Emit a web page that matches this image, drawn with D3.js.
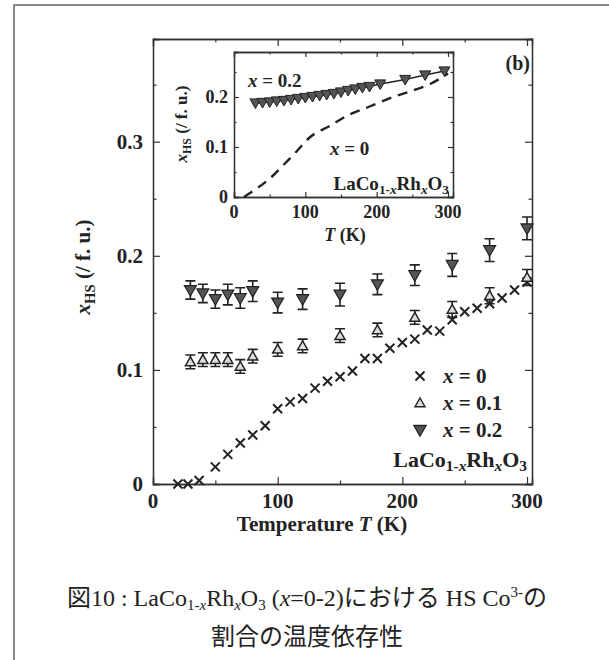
<!DOCTYPE html>
<html lang="ja">
<head>
<meta charset="utf-8">
<script src="https://d3js.org/d3.v7.min.js"></script>
<style>
  body { margin: 0; background: #fff; }
  text { font-family: "Liberation Serif", "Times New Roman", serif; fill: #222; }
</style>
</head>
<body>
<script>
// ---- main panel data ----
const tempX0 = [20, 28, 37, 50, 60, 70, 80, 90, 100, 110, 120, 130, 140, 150, 160, 170, 180, 190, 200, 210, 220, 230, 240, 250, 260, 270, 280, 290, 300];
const hsX0 = [0, 0, 0.003, 0.015, 0.026, 0.036, 0.043, 0.051, 0.066, 0.072, 0.075, 0.084, 0.090, 0.094, 0.099, 0.110, 0.110, 0.119, 0.124, 0.127, 0.135, 0.134, 0.144, 0.151, 0.154, 0.158, 0.163, 0.170, 0.177];

const tempX01 = [30, 40, 50, 60, 70, 80, 100, 120, 150, 180, 210, 240, 270, 300];
const hsX01 = [0.107, 0.109, 0.109, 0.109, 0.103, 0.112, 0.118, 0.121, 0.130, 0.135, 0.146, 0.153, 0.165, 0.181];
const errX01 = [0.006, 0.006, 0.006, 0.006, 0.006, 0.006, 0.006, 0.006, 0.006, 0.006, 0.006, 0.007, 0.007, 0.007];

const tempX02 = [30, 40, 50, 60, 70, 80, 100, 120, 150, 180, 210, 240, 270, 300];
const hsX02 = [0.170, 0.167, 0.162, 0.166, 0.163, 0.169, 0.159, 0.162, 0.166, 0.175, 0.183, 0.192, 0.205, 0.224];
const errX02 = [0.008, 0.008, 0.008, 0.009, 0.009, 0.009, 0.009, 0.009, 0.010, 0.009, 0.009, 0.010, 0.010, 0.010];

const xTicks = [0, 100, 200, 300];
const yTicks = [0, 0.1, 0.2, 0.3];

// ---- inset data ----
const insetTempX02 = [30, 40, 50, 60, 70, 80, 90, 100, 110, 120, 130, 140, 150, 160, 170, 180, 190, 205, 240, 268, 295];
const insetHsX02 = [0.188, 0.189, 0.190, 0.192, 0.193, 0.195, 0.197, 0.199, 0.201, 0.203, 0.205, 0.207, 0.210, 0.213, 0.216, 0.219, 0.221, 0.226, 0.235, 0.244, 0.252];
const insetTempX0 = [14, 30, 54, 70, 87, 106, 134, 162, 190, 223, 251, 275, 300];
const insetHsX0 = [0, 0.015, 0.042, 0.065, 0.090, 0.119, 0.142, 0.165, 0.181, 0.200, 0.213, 0.226, 0.247];
const insetYTicks = [0, 0.1, 0.2];

const svg = d3.select("body").append("svg")
  .attr("width", 609)
  .attr("height", 660);

// page border (left and top)
svg.append("path")
  .attr("d", "M14,660 V5 H609")
  .attr("fill", "none")
  .attr("stroke", "#666")
  .attr("stroke-width", 1.5);

// ---------- main panel ----------
const x = d3.scaleLinear().domain([0, 304]).range([153, 532]);
const y = d3.scaleLinear().domain([0, 0.39]).range([484, 39]);

function frameAxes(g, xs, ys, major, minorX, minorY, yT, xT) {
  const [x0, x1] = xs.range();
  const [y0, y1] = ys.range();
  g.append("g").attr("transform", `translate(0,${y0})`)
    .call(d3.axisBottom(xs).tickValues(minorX).tickSize(-major / 2).tickFormat(""));
  g.append("g").attr("transform", `translate(0,${y0})`)
    .call(d3.axisBottom(xs).tickValues(xT).tickSize(-major).tickFormat(""));
  g.append("g").attr("transform", `translate(0,${y1})`)
    .call(d3.axisTop(xs).tickValues(minorX).tickSize(-major / 2).tickFormat(""));
  g.append("g").attr("transform", `translate(0,${y1})`)
    .call(d3.axisTop(xs).tickValues(xT).tickSize(-major).tickFormat(""));
  g.append("g").attr("transform", `translate(${x0},0)`)
    .call(d3.axisLeft(ys).tickValues(minorY).tickSize(-major / 2).tickFormat(""));
  g.append("g").attr("transform", `translate(${x0},0)`)
    .call(d3.axisLeft(ys).tickValues(yT).tickSize(-major).tickFormat(""));
  g.append("g").attr("transform", `translate(${x1},0)`)
    .call(d3.axisRight(ys).tickValues(minorY).tickSize(-major / 2).tickFormat(""));
  g.append("g").attr("transform", `translate(${x1},0)`)
    .call(d3.axisRight(ys).tickValues(yT).tickSize(-major).tickFormat(""));
  g.selectAll(".domain").attr("stroke", "#333").attr("stroke-width", 1.3);
  g.selectAll(".tick line").attr("stroke", "#333").attr("stroke-width", 1.2);
}

const gMain = svg.append("g");
frameAxes(gMain, x, y, 7, [50, 150, 250], [0.05, 0.15, 0.25, 0.35], yTicks, xTicks);

// tick labels
gMain.selectAll(".xlab").data(xTicks).enter().append("text")
  .attr("x", d => x(d)).attr("y", 508)
  .attr("text-anchor", "middle")
  .attr("font-size", 21).attr("font-weight", "bold")
  .text(d => d);
gMain.selectAll(".ylab").data(yTicks).enter().append("text")
  .attr("x", 143).attr("y", d => y(d) + 7)
  .attr("text-anchor", "end")
  .attr("font-size", 21).attr("font-weight", "bold")
  .text(d => d === 0 ? "0" : d.toFixed(1));

// axis titles
const xt = svg.append("text").attr("x", 322).attr("y", 531)
  .attr("text-anchor", "middle").attr("font-size", 21).attr("font-weight", "bold");
xt.append("tspan").text("Temperature ");
xt.append("tspan").attr("font-style", "italic").text("T");
xt.append("tspan").text(" (K)");

function hsLabel(cx, cy, size) {
  const t = svg.append("text")
    .attr("transform", `translate(${cx},${cy}) rotate(-90)`)
    .attr("text-anchor", "middle")
    .attr("font-size", size).attr("font-weight", "bold");
  t.append("tspan").attr("font-style", "italic").text("x");
  t.append("tspan").attr("font-size", size * 0.7).attr("dy", size * 0.25).text("HS");
  t.append("tspan").attr("dy", -size * 0.25).text(" (/ f. u.)");
}
hsLabel(90, 267, 21);

// markers
function crossPath(cx, cy, s) {
  return `M${cx - s},${cy - s}L${cx + s},${cy + s}M${cx + s},${cy - s}L${cx - s},${cy + s}`;
}
function triUp(cx, cy, s) {
  return `M${cx},${cy - s}L${cx + s},${cy + s * 0.75}L${cx - s},${cy + s * 0.75}Z`;
}
function triDown(cx, cy, s) {
  return `M${cx},${cy + s}L${cx + s},${cy - s * 0.75}L${cx - s},${cy - s * 0.75}Z`;
}

function errorBars(g, temps, vals, errs, cap) {
  const d = temps.map((t, i) => ({ t, v: vals[i], e: errs[i] }));
  g.selectAll(null).data(d).enter().append("path")
    .attr("d", p => `M${x(p.t)},${y(p.v - p.e)}V${y(p.v + p.e)}` +
      `M${x(p.t) - cap},${y(p.v - p.e)}h${cap * 2}M${x(p.t) - cap},${y(p.v + p.e)}h${cap * 2}`)
    .attr("stroke", "#222").attr("stroke-width", 1.6).attr("fill", "none");
}

const gData = svg.append("g");
errorBars(gData, tempX02, hsX02, errX02, 5);
errorBars(gData, tempX01, hsX01, errX01, 5);

gData.selectAll(".x0").data(tempX0).enter().append("path")
  .attr("d", (t, i) => crossPath(x(t), y(hsX0[i]), 4.5))
  .attr("stroke", "#222").attr("stroke-width", 2).attr("fill", "none");

gData.selectAll(".x01").data(tempX01).enter().append("path")
  .attr("d", (t, i) => triUp(x(t), y(hsX01[i]), 5))
  .attr("stroke", "#222").attr("stroke-width", 1.5).attr("fill", "#ddd");

gData.selectAll(".x02").data(tempX02).enter().append("path")
  .attr("d", (t, i) => triDown(x(t), y(hsX02[i]), 6))
  .attr("stroke", "#222").attr("stroke-width", 1.2).attr("fill", "#555");

// legend
const legendRows = [
  { label: "0", mk: "cross" },
  { label: "0.1", mk: "up" },
  { label: "0.2", mk: "down" }
];
const lg = svg.append("g");
legendRows.forEach((r, i) => {
  const cy = 376 + i * 27;
  lg.append("path")
    .attr("d", r.mk === "cross" ? crossPath(420, cy, 4.5) : r.mk === "up" ? triUp(420, cy, 5) : triDown(420, cy, 6))
    .attr("stroke", "#222").attr("stroke-width", r.mk === "cross" ? 2 : 1.4)
    .attr("fill", r.mk === "up" ? "#ddd" : "#555");
  const t = lg.append("text").attr("x", 443).attr("y", cy + 7)
    .attr("font-size", 21).attr("font-weight", "bold");
  t.append("tspan").attr("font-style", "italic").text("x");
  t.append("tspan").text(" = " + r.label);
});

function formula(xp, yp, size, anchor) {
  const t = svg.append("text").attr("x", xp).attr("y", yp)
    .attr("font-size", size).attr("font-weight", "bold").attr("text-anchor", anchor);
  t.append("tspan").text("LaCo");
  t.append("tspan").attr("font-size", size * 0.7).attr("dy", size * 0.2).text("1-");
  t.append("tspan").attr("font-size", size * 0.7).attr("font-style", "italic").text("x");
  t.append("tspan").attr("dy", -size * 0.2).text("Rh");
  t.append("tspan").attr("font-size", size * 0.7).attr("dy", size * 0.2).attr("font-style", "italic").text("x");
  t.append("tspan").attr("dy", -size * 0.2).text("O");
  t.append("tspan").attr("font-size", size * 0.7).attr("dy", size * 0.2).text("3");
}
formula(527, 467, 22, "end");

// ---------- inset ----------
const xi = d3.scaleLinear().domain([0, 307]).range([234, 453]);
const yi = d3.scaleLinear().domain([0, 0.29]).range([197, 52]);

// white background under inset
svg.append("rect").attr("x", 234).attr("y", 52).attr("width", 219).attr("height", 145).attr("fill", "#fff");
const gIn = svg.append("g");
frameAxes(gIn, xi, yi, 5, [50, 150, 250], [0.05, 0.15, 0.25], insetYTicks, xTicks);

gIn.selectAll(".xil").data(xTicks).enter().append("text")
  .attr("x", d => xi(d)).attr("y", 218)
  .attr("text-anchor", "middle").attr("font-size", 18).attr("font-weight", "bold")
  .text(d => d);
gIn.selectAll(".yil").data(insetYTicks).enter().append("text")
  .attr("x", 228).attr("y", d => yi(d) + 6)
  .attr("text-anchor", "end").attr("font-size", 18).attr("font-weight", "bold")
  .text(d => d === 0 ? "0" : d.toFixed(1));

const ti = svg.append("text").attr("x", 345).attr("y", 241)
  .attr("text-anchor", "middle").attr("font-size", 18).attr("font-weight", "bold");
ti.append("tspan").attr("font-style", "italic").text("T");
ti.append("tspan").text(" (K)");

hsLabel(187, 124, 17);

// dashed x = 0 curve
gIn.append("path")
  .datum(insetTempX0.map((t, i) => [t, insetHsX0[i]]))
  .attr("fill", "none").attr("stroke", "#222").attr("stroke-width", 2.4)
  .attr("stroke-dasharray", "10,7")
  .attr("d", d3.line().x(d => xi(d[0])).y(d => yi(d[1])).curve(d3.curveMonotoneX));

// x = 0.2 line with markers
gIn.append("path")
  .datum(insetTempX02.map((t, i) => [t, insetHsX02[i]]))
  .attr("fill", "none").attr("stroke", "#222").attr("stroke-width", 1.3)
  .attr("d", d3.line().x(d => xi(d[0])).y(d => yi(d[1])));
gIn.selectAll(".ix02").data(insetTempX02).enter().append("path")
  .attr("d", (t, i) => triDown(xi(t), yi(insetHsX02[i]), 5.5))
  .attr("stroke", "#222").attr("stroke-width", 1).attr("fill", "#555");

const t02 = svg.append("text").attr("x", 248).attr("y", 87).attr("font-size", 19).attr("font-weight", "bold");
t02.append("tspan").attr("font-style", "italic").text("x");
t02.append("tspan").text(" = 0.2");
const t00 = svg.append("text").attr("x", 330).attr("y", 155).attr("font-size", 19).attr("font-weight", "bold");
t00.append("tspan").attr("font-style", "italic").text("x");
t00.append("tspan").text(" = 0");
formula(449, 190, 19, "end");

svg.append("text").attr("x", 530).attr("y", 70).attr("text-anchor", "end")
  .attr("font-size", 20).attr("font-weight", "bold").text("(b)");

// ---------- caption ----------
const cap = svg.append("text").attr("x", 307).attr("y", 606)
  .attr("text-anchor", "middle").attr("font-size", 24)
  .style("font-family", "'Liberation Serif', 'Noto Sans CJK JP', serif").attr("fill", "#333");
cap.append("tspan").text("図10 : LaCo");
cap.append("tspan").attr("font-size", 15).attr("dy", 4).text("1-");
cap.append("tspan").attr("font-size", 15).attr("font-style", "italic").text("x");
cap.append("tspan").attr("dy", -4).text("Rh");
cap.append("tspan").attr("font-size", 15).attr("dy", 4).attr("font-style", "italic").text("x");
cap.append("tspan").attr("dy", -4).text("O");
cap.append("tspan").attr("font-size", 15).attr("dy", 4).text("3");
cap.append("tspan").attr("dy", -4).text(" (");
cap.append("tspan").attr("font-style", "italic").text("x");
cap.append("tspan").text("=0-2)における HS Co");
cap.append("tspan").attr("font-size", 15).attr("dy", -9).text("3-");
cap.append("tspan").attr("dy", 9).text("の");

svg.append("text").attr("x", 307).attr("y", 645)
  .attr("text-anchor", "middle").attr("font-size", 24)
  .style("font-family", "'Liberation Serif', 'Noto Sans CJK JP', serif").attr("fill", "#333")
  .text("割合の温度依存性");
</script>
</body>
</html>
